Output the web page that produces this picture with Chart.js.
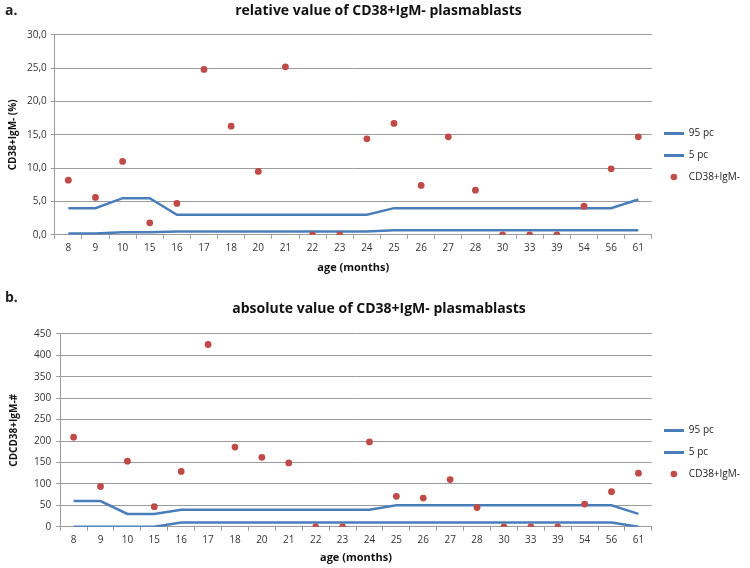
<!DOCTYPE html>
<html>
<head>
<meta charset="utf-8">
<script src="https://cdn.jsdelivr.net/npm/chart.js@4"></script>
<style>
  body { margin: 0; background: #fff; font-family: "Open Sans", sans-serif; }
  .wrap { position: absolute; left: 0; width: 750px; }
  .tag { position: absolute; left: 5px; font: bold 14px "Open Sans", sans-serif; color: #222; }
</style>
</head>
<body>
<div class="wrap" style="top:0; height:282px;"><canvas id="chartA"></canvas></div>
<div class="wrap" style="top:298px; height:270px;"><canvas id="chartB"></canvas></div>
<div class="tag" style="top:0px;">a.</div>
<div class="tag" style="top:287px;">b.</div>
<script>
const ages = ['8', '9', '10', '15', '16', '17', '18', '20', '21', '22', '23', '24', '25', '26', '27', '28', '30', '33', '39', '54', '56', '61'];

// a. relative value (%)
const relP95 = [4.0, 4.0, 5.5, 5.5, 3.0, 3.0, 3.0, 3.0, 3.0, 3.0, 3.0, 3.0, 4.0, 4.0, 4.0, 4.0, 4.0, 4.0, 4.0, 4.0, 4.0, 5.3];
const relP5 = [0.2, 0.2, 0.4, 0.4, 0.5, 0.5, 0.5, 0.5, 0.5, 0.5, 0.5, 0.5, 0.7, 0.7, 0.7, 0.7, 0.7, 0.7, 0.7, 0.7, 0.7, 0.7];
const relValues = [8.2, 5.6, 11.0, 1.8, 4.7, 24.8, 16.3, 9.5, 25.2, 0, 0, 14.4, 16.7, 7.4, 14.7, 6.7, 0, 0, 0, 4.3, 9.9, 14.7];

// b. absolute value (#)
const absP95 = [60, 60, 30, 30, 40, 40, 40, 40, 40, 40, 40, 40, 50, 50, 50, 50, 50, 50, 50, 50, 50, 30];
const absP5 = [0, 0, 0, 0, 10, 10, 10, 10, 10, 10, 10, 10, 10, 10, 10, 10, 10, 10, 10, 10, 10, 0];
const absValues = [209, 94, 153, 47, 129, 425, 186, 162, 149, 0, 0, 198, 71, 67, 110, 45, 0, 0, 0, 53, 82, 125];

const blue = '#4A7EBB';
const red = '#BE4B48';
const gridColor = '#9C9C9C';
const font = '"Open Sans", sans-serif';

// small legend symbols
const lineIcon = document.createElement('canvas');
lineIcon.width = 20; lineIcon.height = 3;
let c = lineIcon.getContext('2d');
c.fillStyle = blue; c.fillRect(0, 0, 20, 3);

const dotIcon = document.createElement('canvas');
dotIcon.width = 8; dotIcon.height = 8;
c = dotIcon.getContext('2d');
c.fillStyle = red; c.beginPath(); c.arc(4, 4, 3.3, 0, Math.PI * 2); c.fill();

function makeChart(id, title, yTitle, p95, p5, values, yMax, yStep, fmt, lay) {
    new Chart(document.getElementById(id), {
        type: 'line',
        data: {
            labels: ages,
            datasets: [{
                label: '95 pc',
                data: p95,
                borderColor: blue,
                backgroundColor: blue,
                borderWidth: 2.5,
                pointRadius: 0,
                tension: 0,
                order: 1
            }, {
                label: '5 pc',
                data: p5,
                borderColor: blue,
                backgroundColor: blue,
                borderWidth: 2.5,
                pointRadius: 0,
                tension: 0,
                order: 1
            }, {
                label: 'CD38+IgM-',
                data: values,
                showLine: false,
                borderColor: red,
                backgroundColor: red,
                pointRadius: 3.4,
                pointBorderWidth: 0,
                pointStyle: 'circle',
                order: 0
            }]
        },
        options: {
            responsive: true,
            maintainAspectRatio: false,
            animation: false,
            layout: { padding: lay.pad },
            plugins: {
                title: {
                    display: true,
                    text: title,
                    color: '#111',
                    font: { family: font, size: 14, weight: 'bold' },
                    padding: { top: 3, bottom: lay.titleGap }
                },
                legend: {
                    position: 'right',
                    align: 'center',
                    title: {
                        display: true,
                        text: ' ',
                        font: { family: font, size: 10 },
                        padding: { top: lay.legendShift, bottom: lay.legendShift }
                    },
                    labels: {
                        color: '#222',
                        font: { family: font, size: 10 },
                        usePointStyle: true,
                        pointStyleWidth: 20,
                        boxWidth: 20,
                        padding: 12,
                        sort: (a, b) => a.datasetIndex - b.datasetIndex,
                        generateLabels: chart => {
                            const items = Chart.defaults.plugins.legend.labels.generateLabels(chart);
                            items.forEach(it => {
                                it.pointStyle = it.datasetIndex === 2 ? dotIcon : lineIcon;
                            });
                            return items;
                        }
                    }
                },
                tooltip: { enabled: false }
            },
            scales: {
                x: {
                    offset: true,
                    grid: {
                        offset: true,
                        drawOnChartArea: false,
                        drawTicks: true,
                        tickLength: 4,
                        color: gridColor
                    },
                    border: { color: gridColor },
                    ticks: {
                        color: '#333',
                        font: { family: font, size: 10 },
                        padding: 3,
                        maxRotation: 0,
                        autoSkip: false
                    },
                    title: {
                        display: true,
                        text: 'age (months)',
                        color: '#111',
                        font: { family: font, size: 11, weight: 'bold' },
                        padding: { top: lay.xTitleGap, bottom: 0 }
                    }
                },
                y: {
                    min: 0,
                    max: yMax,
                    grid: {
                        color: gridColor,
                        tickLength: 4
                    },
                    border: { color: gridColor },
                    ticks: {
                        stepSize: yStep,
                        color: '#333',
                        font: { family: font, size: 10 },
                        padding: lay.yTickPad,
                        callback: fmt
                    },
                    title: {
                        display: true,
                        text: yTitle,
                        color: '#111',
                        font: { family: font, size: 10, weight: 'bold' },
                        padding: { top: 0, bottom: lay.yTitleGap }
                    }
                }
            }
        }
    });
}

makeChart('chartA', 'relative value of CD38+IgM- plasmablasts', 'CD38+IgM- (%)',
    relP95, relP5, relValues, 30, 5,
    v => v.toFixed(1).replace('.', ','),
    { pad: { left: 7, right: 0, top: 0, bottom: 8 }, titleGap: 15, xTitleGap: 4, yTickPad: 4, yTitleGap: 4, legendShift: 12 });

makeChart('chartB', 'absolute value of CD38+IgM- plasmablasts', 'CDCD38+IgM-#',
    absP95, absP5, absValues, 450, 50,
    v => v,
    { pad: { left: 8, right: 0, top: 0, bottom: 4 }, titleGap: 16, xTitleGap: 2, yTickPad: 5, yTitleGap: 9, legendShift: 15 });
</script>
</body>
</html>
